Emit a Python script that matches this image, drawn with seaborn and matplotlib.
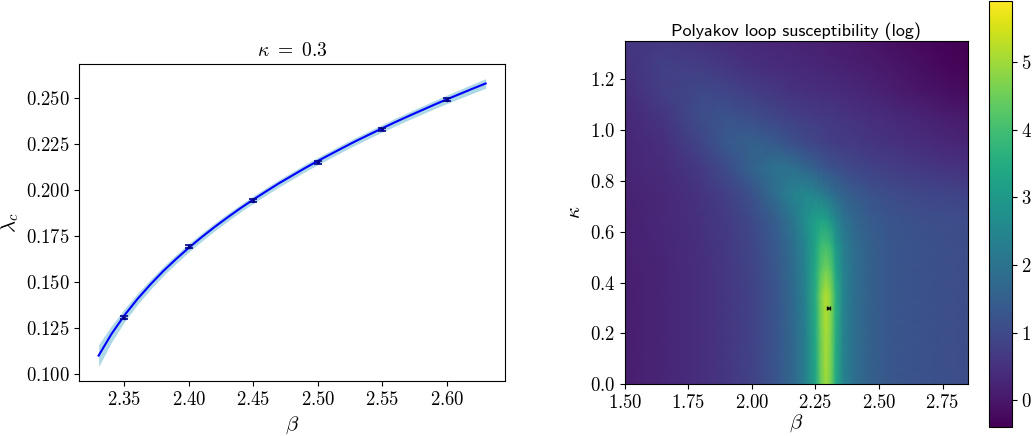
'''
Two panels: the critical line lambda_c(beta) at kappa = 0.3 with its fit band,
and the Polyakov loop susceptibility (log) over the (beta, kappa) plane.
'''

import matplotlib
matplotlib.use('Agg')
import matplotlib.pyplot as plt
import seaborn as sns
import numpy as np

# left panel: fit curve, band half width and measured points
beta_fit = [2.33, 2.34, 2.35, 2.36, 2.37, 2.38, 2.39, 2.40, 2.41, 2.42, 2.43,
            2.44, 2.45, 2.46, 2.47, 2.48, 2.49, 2.50, 2.51, 2.52, 2.53, 2.54,
            2.55, 2.56, 2.57, 2.58, 2.59, 2.60, 2.61, 2.62, 2.63]
lam_fit = [0.1098, 0.1216, 0.1317, 0.1405, 0.1484, 0.1557, 0.1623, 0.1685,
           0.1743, 0.1798, 0.1850, 0.1900, 0.1947, 0.1992, 0.2036, 0.2077,
           0.2118, 0.2157, 0.2194, 0.2231, 0.2267, 0.2301, 0.2335, 0.2368,
           0.2400, 0.2431, 0.2462, 0.2492, 0.2521, 0.2550, 0.2578]
lam_band = [0.0060, 0.0045, 0.0035, 0.0030, 0.0027, 0.0025, 0.0024, 0.0023,
            0.0022, 0.0021, 0.0021, 0.0020, 0.0020, 0.0020, 0.0020, 0.0020,
            0.0020, 0.0020, 0.0020, 0.0020, 0.0020, 0.0020, 0.0020, 0.0021,
            0.0021, 0.0022, 0.0022, 0.0023, 0.0024, 0.0025, 0.0026]
beta_pts = [2.35, 2.40, 2.45, 2.50, 2.55, 2.60]
lam_pts = [0.1305, 0.1690, 0.1940, 0.2150, 0.2330, 0.2490]
lam_err = [0.0009, 0.0008, 0.0008, 0.0008, 0.0008, 0.0008]

# right panel: log susceptibility on a (kappa rows, beta columns) grid
beta_grid = [1.50, 1.65, 1.80, 1.90, 2.00, 2.10, 2.16, 2.21, 2.25, 2.27,
             2.29, 2.31, 2.33, 2.36, 2.40, 2.47, 2.55, 2.65, 2.75, 2.85]
kappa_grid = [0.00, 0.20, 0.35, 0.45, 0.55, 0.65, 0.75, 0.85, 0.95, 1.05,
              1.15, 1.25, 1.35]
log_chi = [
    [0.15, 0.25, 0.45, 0.60, 0.85, 1.30, 1.70, 2.30, 3.30, 4.40, 5.00, 4.60, 3.40, 2.40, 1.90, 1.50, 1.30, 1.20, 1.15, 1.10],
    [0.15, 0.25, 0.45, 0.60, 0.85, 1.30, 1.70, 2.30, 3.40, 4.50, 5.10, 4.70, 3.50, 2.40, 1.90, 1.50, 1.30, 1.20, 1.15, 1.10],
    [0.15, 0.25, 0.45, 0.60, 0.85, 1.30, 1.75, 2.40, 3.50, 4.60, 5.20, 4.80, 3.60, 2.45, 1.90, 1.50, 1.30, 1.20, 1.15, 1.10],
    [0.15, 0.25, 0.45, 0.62, 0.88, 1.35, 1.80, 2.45, 3.40, 4.20, 4.60, 4.30, 3.30, 2.40, 1.90, 1.50, 1.30, 1.20, 1.15, 1.10],
    [0.18, 0.28, 0.48, 0.65, 0.92, 1.40, 1.85, 2.50, 3.30, 3.85, 4.00, 3.75, 3.00, 2.30, 1.85, 1.50, 1.30, 1.20, 1.15, 1.10],
    [0.20, 0.30, 0.50, 0.70, 1.00, 1.55, 2.05, 2.70, 3.15, 3.25, 3.15, 2.85, 2.50, 2.00, 1.70, 1.40, 1.25, 1.15, 1.10, 1.05],
    [0.22, 0.32, 0.55, 0.80, 1.20, 1.90, 2.40, 2.55, 2.40, 2.25, 2.10, 1.95, 1.80, 1.60, 1.40, 1.20, 1.05, 0.95, 0.90, 0.85],
    [0.25, 0.38, 0.68, 1.05, 1.60, 2.00, 1.90, 1.70, 1.50, 1.40, 1.30, 1.22, 1.15, 1.05, 0.95, 0.85, 0.75, 0.65, 0.58, 0.50],
    [0.28, 0.45, 0.90, 1.35, 1.55, 1.35, 1.15, 1.00, 0.92, 0.88, 0.83, 0.79, 0.75, 0.71, 0.67, 0.59, 0.50, 0.40, 0.32, 0.25],
    [0.32, 0.58, 1.10, 1.25, 1.10, 0.90, 0.80, 0.74, 0.70, 0.68, 0.66, 0.63, 0.60, 0.56, 0.52, 0.44, 0.35, 0.25, 0.15, 0.05],
    [0.40, 0.75, 1.00, 0.90, 0.75, 0.60, 0.54, 0.49, 0.46, 0.44, 0.42, 0.40, 0.38, 0.35, 0.31, 0.24, 0.14, 0.00, -0.10, -0.20],
    [0.50, 0.80, 0.75, 0.60, 0.48, 0.39, 0.35, 0.32, 0.29, 0.28, 0.26, 0.24, 0.22, 0.19, 0.15, 0.08, -0.02, -0.12, -0.25, -0.32],
    [0.58, 0.65, 0.50, 0.40, 0.34, 0.27, 0.23, 0.20, 0.17, 0.16, 0.14, 0.12, 0.10, 0.07, 0.03, -0.04, -0.13, -0.23, -0.32, -0.39],
]
chi_min = -0.39
chi_max = 5.91
crit_beta = [2.30]
crit_kappa = [0.30]
crit_err = [0.006]

# fonts: Computer Modern look without LaTeX
plt.rcParams['font.family'] = 'serif'
plt.rcParams['font.serif'] = ['cmr10']
plt.rcParams['mathtext.fontset'] = 'cm'
plt.rcParams['axes.formatter.use_mathtext'] = True
plt.rcParams['axes.unicode_minus'] = False

fig = plt.figure(figsize=(10.35, 4.36), dpi=100)
ax1 = fig.add_axes([0.0766, 0.1261, 0.4113, 0.7264])
ax2 = fig.add_axes([0.6032, 0.1186, 0.3326, 0.7867])
cax = fig.add_axes([0.9558, 0.0213, 0.0216, 0.9770])

# left panel
lo = np.array(lam_fit) - np.array(lam_band)
hi = np.array(lam_fit) + np.array(lam_band)
ax1.fill_between(beta_fit, lo, hi, color='lightblue', lw=0)
sns.lineplot(x=beta_fit, y=lam_fit, color='blue', lw=1.5, ax=ax1)
ax1.errorbar(beta_pts, lam_pts, yerr=lam_err, fmt='.', ms=3, color='darkblue',
             capsize=3, elinewidth=1.2, capthick=1.2)
ax1.set_yticks([0.100, 0.125, 0.150, 0.175, 0.200, 0.225, 0.250])
ax1.set_xlabel(r'$\beta$', fontsize=15)
ax1.set_ylabel(r'$\lambda_c$', fontsize=15, labelpad=3)
ax1.set_title(r'$\kappa\ =\ 0.3$', fontsize=14)
ax1.tick_params(labelsize=13.5)

# right panel
mesh = ax2.pcolormesh(beta_grid, kappa_grid, np.array(log_chi),
                      shading='gouraud', cmap='viridis', vmin=chi_min,
                      vmax=chi_max, rasterized=True)
ax2.errorbar(crit_beta, crit_kappa, xerr=crit_err, fmt='.', ms=2, color='black',
             capsize=1.5, elinewidth=1, capthick=1)
ax2.set_xlim(1.50, 2.85)
ax2.set_ylim(0.0, 1.35)
ax2.set_aspect('equal')
ax2.set_xticks([1.50, 1.75, 2.00, 2.25, 2.50, 2.75])
ax2.set_yticks([0.0, 0.2, 0.4, 0.6, 0.8, 1.0, 1.2])
ax2.set_xlabel(r'$\beta$', fontsize=15, labelpad=0)
ax2.set_ylabel(r'$\kappa$', fontsize=15)
ax2.set_title('Polyakov loop susceptibility (log)', fontsize=13,
              family='cmss10', pad=4)
ax2.tick_params(labelsize=13.5)

cb = fig.colorbar(mesh, cax=cax)
cb.set_ticks([0, 1, 2, 3, 4, 5])
cb.ax.tick_params(labelsize=13.5)

plt.savefig('out.png', dpi=100)
